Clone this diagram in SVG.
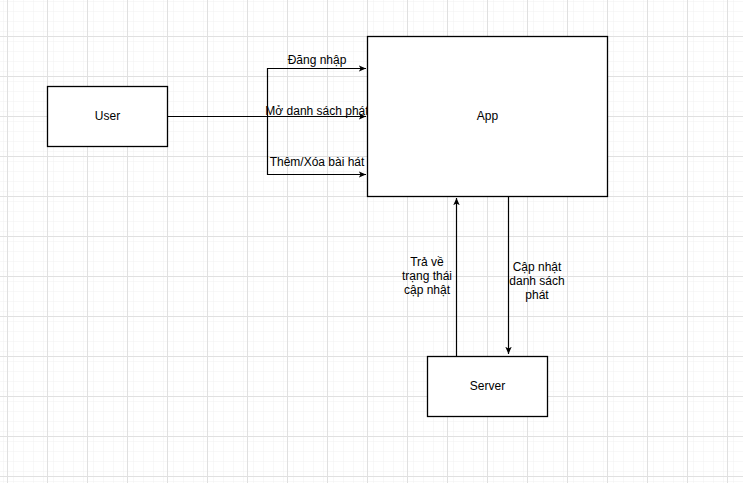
<svg xmlns="http://www.w3.org/2000/svg" width="743" height="483" viewBox="0 0 743 483">
<defs>
<pattern id="minor" x="7" y="36" width="10" height="10" patternUnits="userSpaceOnUse">
<path d="M10 0 V10 M0 10 H10" fill="none" stroke="#f0f0f0" stroke-width="1"/>
</pattern>
<pattern id="major" x="7" y="36" width="40" height="40" patternUnits="userSpaceOnUse">
<rect width="40" height="40" fill="url(#minor)"/>
<path d="M0.5 0 V40 M0 0.5 H40" fill="none" stroke="#e0e0e0" stroke-width="1"/>
</pattern>
<marker id="arr" viewBox="0 0 10 10" refX="9" refY="5" markerWidth="8" markerHeight="8" markerUnits="userSpaceOnUse" orient="auto">
<path d="M0 1 L9 5 L0 9 L2.2 5 Z" fill="#000"/>
</marker>
</defs>
<style>
.box{fill:#fff;stroke:#000;stroke-width:1.3}
.edge{fill:none;stroke:#000;stroke-width:1.2}
text{font-family:"Liberation Sans",Arial,sans-serif;font-size:12px;fill:#000;text-anchor:middle}
</style>
<rect width="743" height="483" fill="#fff"/>
<rect width="743" height="483" fill="url(#major)"/>
<g id="connectors">
<path class="edge" d="M167 116.5 H267.5 V68.5 H366" marker-end="url(#arr)"/>
<path class="edge" d="M267.5 116.5 H366" marker-end="url(#arr)"/>
<path class="edge" d="M267.5 116.5 V174.5 H366" marker-end="url(#arr)"/>
<path class="edge" d="M456.5 356 V198" marker-end="url(#arr)"/>
<path class="edge" d="M508.5 196 V354" marker-end="url(#arr)"/>
<text x="317" y="64">Đăng nhập</text>
<text x="317" y="115">Mở danh sách phát</text>
<text x="317" y="166">Thêm/Xóa bài hát</text>
<text x="427" y="266">Trả về</text>
<text x="427" y="280">trạng thái</text>
<text x="427" y="294">cập nhật</text>
<text x="537" y="271">Cập nhật</text>
<text x="537" y="285">danh sách</text>
<text x="537" y="299">phát</text>
</g>
<g id="user">
<rect class="box" x="47.5" y="86.5" width="120" height="60"/>
<text x="107.5" y="120">User</text>
</g>
<g id="app">
<rect class="box" x="367.5" y="36.5" width="240" height="160"/>
<text x="487.5" y="120">App</text>
</g>
<g id="server">
<rect class="box" x="427.5" y="356.5" width="120" height="60"/>
<text x="487.5" y="390">Server</text>
</g>
</svg>
